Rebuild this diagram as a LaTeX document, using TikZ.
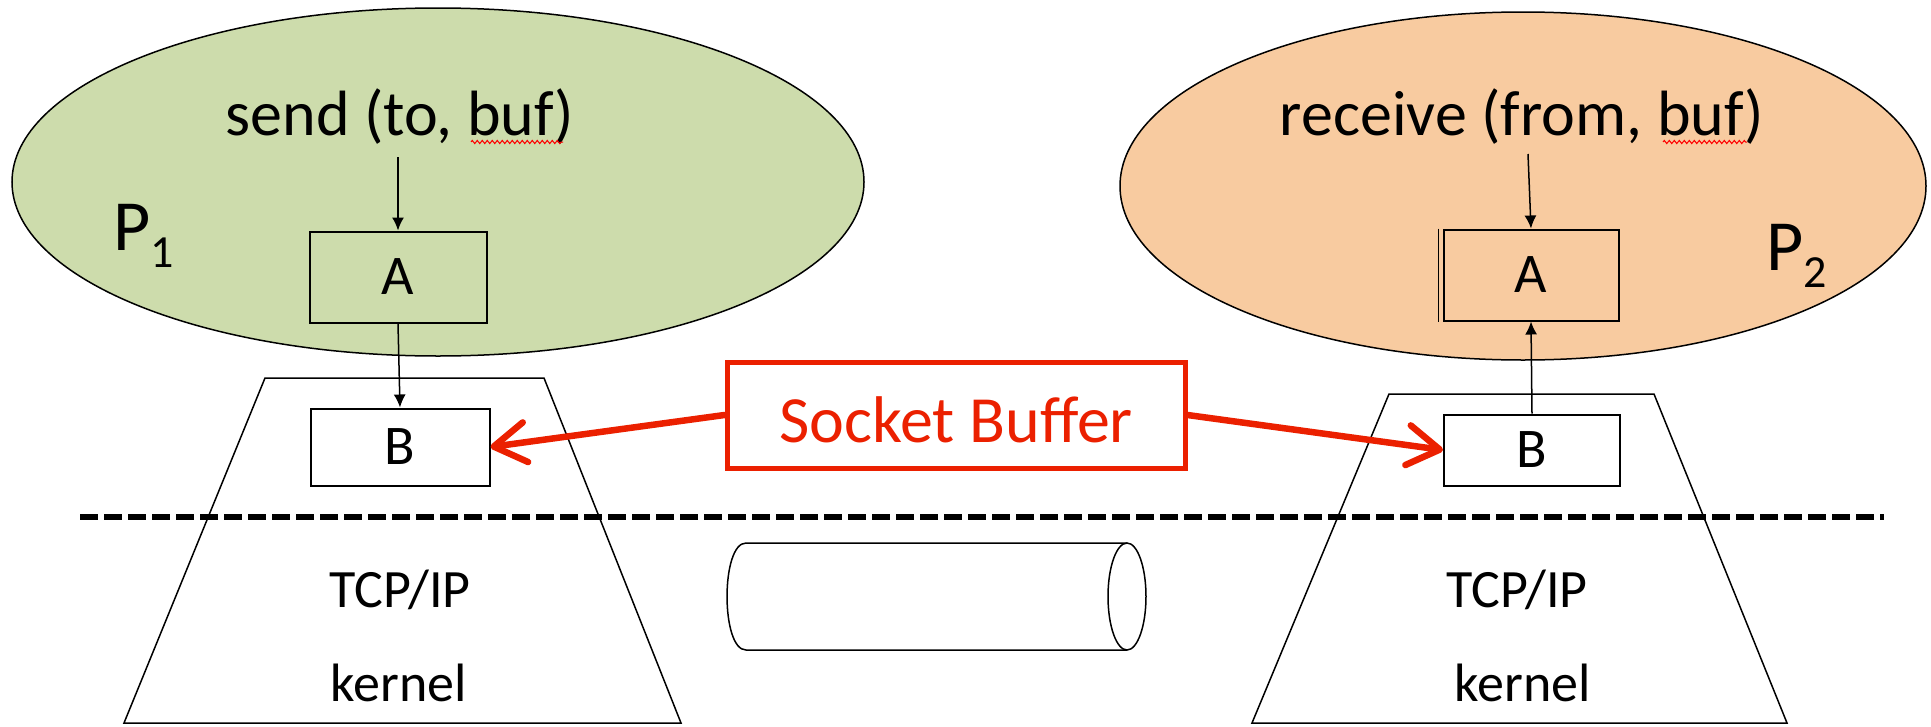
\documentclass[tikz,border=0pt]{standalone}
\usepackage{fontspec}
\setmainfont{Carlito}
\usetikzlibrary{arrows.meta,shapes.geometric,decorations.pathmorphing}
\definecolor{pgreen}{RGB}{205,220,172}
\definecolor{ppeach}{RGB}{248,203,160}
\definecolor{sred}{RGB}{235,32,0}
\begin{document}
\begin{tikzpicture}[x=1pt,y=-1pt,
  proc/.style={ellipse,draw=black,line width=1.5pt,inner sep=0pt},
  bufbox/.style={draw=black,line width=2pt,rectangle,inner sep=0pt,font=\fontsize{56}{60}\selectfont},
  lbl/.style={inner sep=0pt,anchor=base},
  darr/.style={-{Latex[length=13pt,width=12pt]},line width=1.5pt},
  rarr/.style={-{Straight Barb[length=32pt,width=40pt,line cap=round,line join=round]},line width=6.5pt,draw=sred,line cap=round},
  stackshape/.style={draw=black,line width=1.5pt,fill=white},
  squig/.style={draw=red,line width=1pt,decorate,decoration={zigzag,segment length=5pt,amplitude=1.6pt}},
]
\useasboundingbox (0,0) rectangle (1931,726);
% processes
\node[proc,fill=pgreen,minimum width=852pt,minimum height=348pt] (E1) at (438,182) {};
\node[proc,fill=ppeach,minimum width=806pt,minimum height=348pt] (E2) at (1523,186) {};
\node[lbl,font=\fontsize{64}{70}\selectfont] (send) at (400,135) {send (to, buf)};
\node[lbl,font=\fontsize{64}{70}\selectfont] (recv) at (1522,135) {receive (from, buf)};
\draw[squig] (471,142) -- (563,142);
\draw[squig] (1663,142) -- (1747,142);
\node[lbl,anchor=base west,font=\fontsize{72}{72}\selectfont] (P1) at (113,250) {P\raisebox{-17pt}{\fontsize{46}{46}\selectfont 1}};
\node[lbl,anchor=base west,font=\fontsize{72}{72}\selectfont] (P2) at (1766,270) {P\raisebox{-17pt}{\fontsize{46}{46}\selectfont 2}};
\node[bufbox,minimum width=177pt,minimum height=91pt] (A1) at (398,277) {A};
\node[bufbox,minimum width=175pt,minimum height=91pt] (A2) at (1531,275) {A};
\draw[line width=1.5pt] ([xshift=-4pt]A2.north west) -- ([xshift=-4pt]A2.south west);
% kernel stacks
\draw[stackshape] (265,378) -- (544,378) -- (681,723) -- (124,723) -- cycle;
\draw[stackshape] (1389,394) -- (1654,394) -- (1787,723) -- (1252,723) -- cycle;
\node[bufbox,fill=white,minimum width=179pt,minimum height=77pt] (B1) at (400,447) {B};
\node[bufbox,fill=white,minimum width=176pt,minimum height=71pt] (B2) at (1532,450) {B};
\node[lbl,font=\fontsize{54}{60}\selectfont] (tcp1) at (400,607) {TCP/IP};
\node[lbl,font=\fontsize{54}{60}\selectfont] (ker1) at (399,701) {kernel};
\node[lbl,font=\fontsize{54}{60}\selectfont] (tcp2) at (1517,607) {TCP/IP};
\node[lbl,font=\fontsize{54}{60}\selectfont] (ker2) at (1523,701) {kernel};
% dashed user/kernel boundary
\coordinate (d1) at (80,517);
\coordinate (d2) at (1884,517);
\draw[line width=6pt,dash pattern=on 18pt off 6pt] (d1) -- (d2);
% cylinder (network)
\draw[line width=1.5pt] (1127,543) -- (746,543) .. controls (720.7,543) and (720.7,650) .. (746,650) -- (1127,650);
\node[ellipse,draw,line width=1.5pt,fill=white,minimum width=38pt,minimum height=107pt,inner sep=0pt] (cylend) at (1127,596.5) {};
% black arrows
\coordinate (s1) at (398,157);
\coordinate (s2) at (1528,154);
\draw[darr] (s1) -- (A1.north);
\draw[darr] (s2) -- (A2.north);
\draw[darr] (A1.south) -- (B1.north);
\draw[darr] (B2.north) -- (A2.south);
% socket buffer
\node[draw=sred,line width=5pt,fill=white,minimum width=458pt,minimum height=106pt,inner sep=0pt] (SB) at (956,415) {};
\node[lbl,text=sred,font=\fontsize{66}{70}\selectfont] (SBt) at (956,442) {Socket Buffer};
\draw[rarr] (SB.west) -- (B1.east);
\draw[rarr] (SB.east) -- (B2.west);
\end{tikzpicture}
\end{document}
